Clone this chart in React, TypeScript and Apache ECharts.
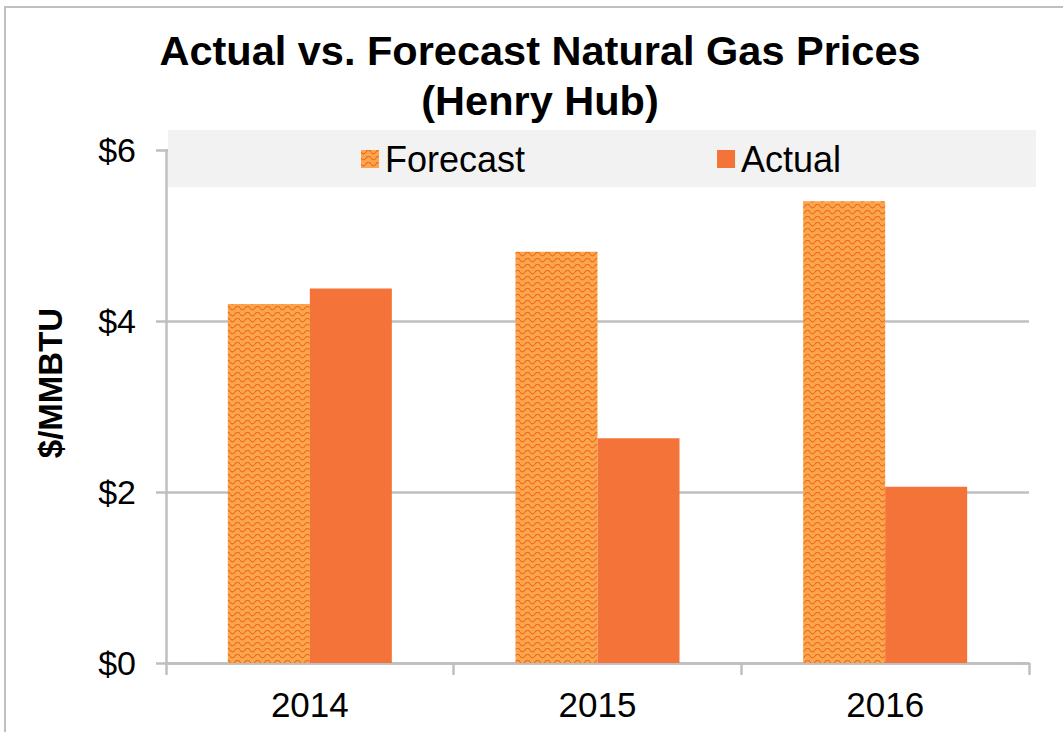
import React, { useEffect, useRef } from "react";
import * as echarts from "echarts";

const categories = ["2014", "2015", "2016"];
const forecastValues = [4.2, 4.81, 5.4];
const actualValues = [4.38, 2.63, 2.06];
const yTicks = [0, 2, 4, 6];
const titleLines = ["Actual vs. Forecast Natural Gas Prices", "(Henry Hub)"];

function makePattern() {
  const c = document.createElement("canvas");
  c.width = 10;
  c.height = 6;
  const ctx = c.getContext("2d")!;
  ctx.fillStyle = "#FBA54C";
  ctx.fillRect(0, 0, 10, 6);
  ctx.strokeStyle = "#EF6A1E";
  ctx.lineWidth = 1.1;
  ctx.beginPath();
  ctx.moveTo(0, 2);
  ctx.bezierCurveTo(1.5, 4.5, 3.5, 4.5, 5, 2);
  ctx.bezierCurveTo(6.5, -0.5, 8.5, -0.5, 10, 2);
  ctx.stroke();
  return { image: c.toDataURL(), repeat: "repeat", imageWidth: 10, imageHeight: 6 };
}

const FONT = "'Liberation Sans', Arial, sans-serif";

export default function App() {
  const ref = useRef<HTMLDivElement>(null);
  useEffect(() => {
    const chart = echarts.init(ref.current!, null, { renderer: "svg" });
    const pattern: any = makePattern();
    const axisGray = "#BFBFBF";
    chart.setOption({
      animation: false,
      backgroundColor: "#ffffff",
      textStyle: { fontFamily: FONT },
      graphic: [
        {
          type: "rect",
          silent: true,
          z: -1,
          shape: { x: 5, y: 7, width: 1200, height: 900 },
          style: { fill: "none", stroke: "#C0C0C0", lineWidth: 2 },
        },
        {
          type: "rect",
          silent: true,
          z: 4,
          shape: { x: 168, y: 130, width: 868, height: 57 },
          style: { fill: "#F2F2F2" },
        },
        {
          type: "text",
          x: 540,
          y: 50,
          style: {
            text: titleLines[0],
            fontFamily: FONT,
            fontWeight: "bold",
            fontSize: 41.5,
            fill: "#000",
            align: "center",
            verticalAlign: "middle",
          },
        },
        {
          type: "text",
          x: 540,
          y: 100,
          style: {
            text: titleLines[1],
            fontFamily: FONT,
            fontWeight: "bold",
            fontSize: 41.5,
            fill: "#000",
            align: "center",
            verticalAlign: "middle",
          },
        },
        {
          type: "text",
          x: 50,
          y: 383,
          rotation: Math.PI / 2,
          style: {
            text: "$/MMBTU",
            fontFamily: FONT,
            fontWeight: "bold",
            fontSize: 33,
            fill: "#000",
            align: "center",
            verticalAlign: "middle",
          },
        },
      ],
      legend: {
        left: 356,
        top: 136,
        itemWidth: 18,
        itemHeight: 18,
        itemGap: 192,
        icon: "rect",
        z: 10,
        textStyle: {
          fontSize: 36,
          color: "#000",
          fontFamily: FONT,
          padding: [0, 0, 0, 1],
        },
        data: ["Forecast", "Actual"],
      },
      grid: { left: 166, right: 34, top: 150, bottom: 69, containLabel: false },
      xAxis: {
        type: "category",
        data: categories,
        boundaryGap: true,
        axisLine: { lineStyle: { color: axisGray, width: 2.5 } },
        axisTick: { show: true, length: 12, alignWithLabel: false, lineStyle: { color: axisGray, width: 2.5 } },
        axisLabel: { fontSize: 35, color: "#000", margin: 24 },
      },
      yAxis: {
        type: "value",
        min: yTicks[0],
        max: yTicks[yTicks.length - 1],
        interval: 2,
        axisLine: { show: true, lineStyle: { color: axisGray, width: 2.5 } },
        axisTick: { show: true, length: 10, lineStyle: { color: axisGray, width: 2.5 } },
        splitLine: { show: true, lineStyle: { color: axisGray, width: 2.5 } },
        axisLabel: { fontSize: 34, color: "#000", margin: 30, formatter: (v: number) => "$" + v },
      },
      series: [
        {
          name: "Forecast",
          type: "bar",
          data: forecastValues,
          barWidth: 82,
          barGap: "0%",
          itemStyle: { color: pattern },
        },
        {
          name: "Actual",
          type: "bar",
          data: actualValues,
          barWidth: 82,
          itemStyle: { color: "#F37338" },
        },
      ],
    });
    return () => chart.dispose();
  }, []);
  return (
    <div
      ref={ref}
      style={{ position: "fixed", left: 0, top: 0, width: 1063, height: 732 }}
    />
  );
}
